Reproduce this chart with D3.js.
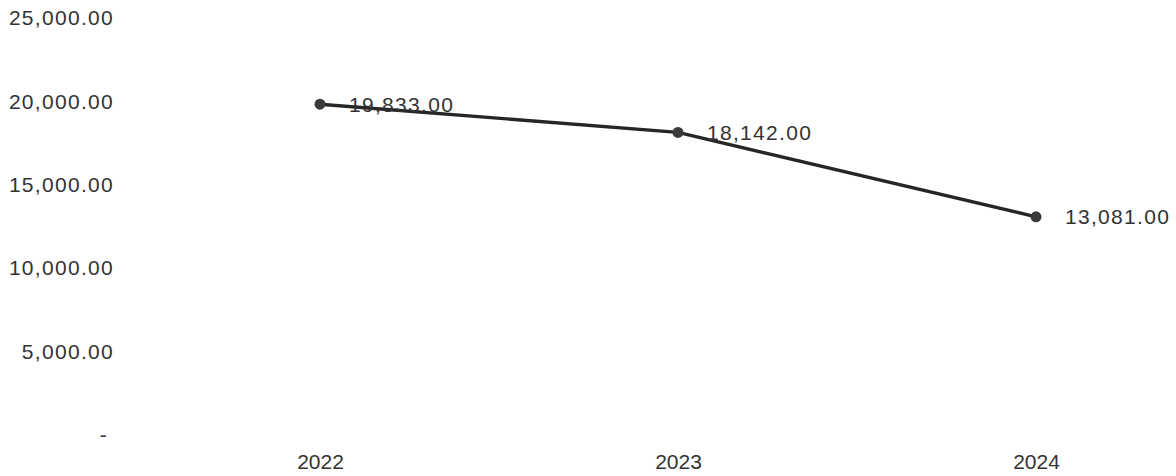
<!DOCTYPE html>
<html>
<head>
<meta charset="utf-8">
<script src="https://cdn.jsdelivr.net/npm/d3@7"></script>
<style>
  html, body { margin: 0; padding: 0; background: #fff; }
  svg { display: block; }
  text { font-family: "Liberation Sans", Arial, sans-serif; fill: #333; }
</style>
</head>
<body>
<svg id="chart" width="1176" height="476"></svg>
<script>
// Yearly totals
const years = ["2022", "2023", "2024"];
const totals = [19833, 18142, 13081];
const yTicks = [0, 5000, 10000, 15000, 20000, 25000];

const svg = d3.select("#chart");
const fontSize = 21;
const spacing = 1.3;

const x = d3.scalePoint().domain(years).range([320, 1036]);
const y = d3.scaleLinear().domain([0, 25000]).range([435, 18]);

const money = d3.format(",.2f");

// Value axis: accounting-style labels, zero shown as a dash
const yAxis = svg.append("g")
  .attr("transform", "translate(114,0)")
  .call(d3.axisLeft(y).tickValues(yTicks).tickSize(0).tickPadding(0)
    .tickFormat(d => d === 0 ? "-" : money(d)));
yAxis.select(".domain").remove();
yAxis.selectAll("text")
  .attr("font-size", fontSize)
  .attr("font-family", "Liberation Sans, Arial, sans-serif")
  .attr("fill", "#333")
  .attr("letter-spacing", spacing)
  .attr("dx", d => d === 0 ? -6 : 0);

// Category axis
const xAxis = svg.append("g")
  .attr("transform", "translate(0,462)")
  .call(d3.axisBottom(x).tickSize(0).tickPadding(0));
xAxis.select(".domain").remove();
xAxis.selectAll("text")
  .attr("font-size", fontSize)
  .attr("font-family", "Liberation Sans, Arial, sans-serif")
  .attr("fill", "#333")
  .attr("dy", "0.35em");

const data = years.map((yr, i) => ({ year: yr, value: totals[i] }));

const line = d3.line().x(d => x(d.year)).y(d => y(d.value));

svg.append("path")
  .datum(data)
  .attr("d", line)
  .attr("fill", "none")
  .attr("stroke", "#262626")
  .attr("stroke-width", 3.4)
  .attr("stroke-linejoin", "round");

svg.append("g").selectAll("circle")
  .data(data)
  .join("circle")
  .attr("cx", d => x(d.year))
  .attr("cy", d => y(d.value))
  .attr("r", 5.5)
  .attr("fill", "#3a3a3a");

svg.append("g").selectAll("text")
  .data(data)
  .join("text")
  .attr("x", d => x(d.year) + 29)
  .attr("y", d => y(d.value))
  .attr("dy", "0.35em")
  .attr("font-size", fontSize)
  .attr("letter-spacing", spacing)
  .attr("fill", "#333")
  .text(d => money(d.value));
</script>
</body>
</html>
